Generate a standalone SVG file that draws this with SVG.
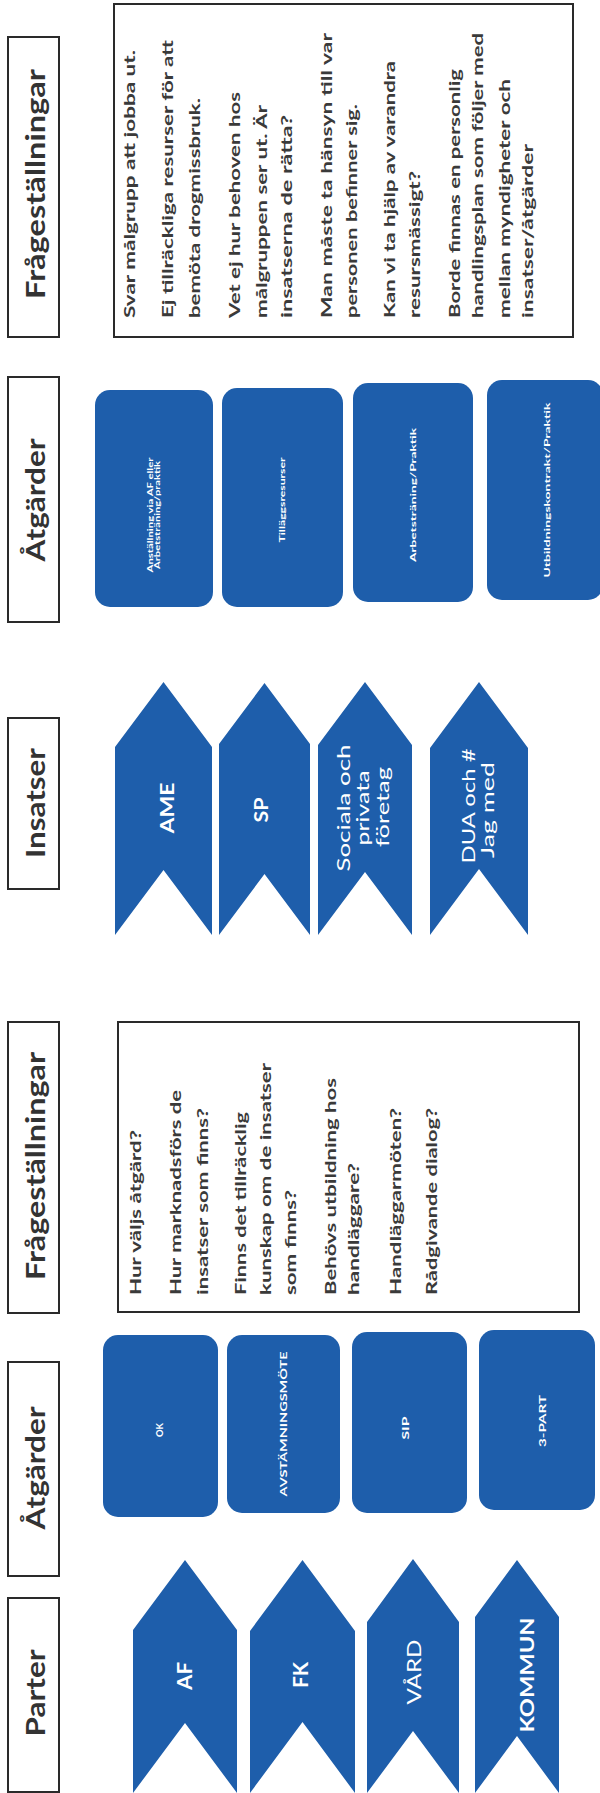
<svg xmlns="http://www.w3.org/2000/svg" width="600" height="1793" viewBox="0 0 600 1793">
<defs>
<style>
.hdr{fill:#fff;stroke:#2a2a2a;stroke-width:2}
.htxt{font-family:Lato,"Open Sans","Liberation Sans",sans-serif;font-weight:700;font-size:26px;fill:#333;text-anchor:middle}
.box{fill:#fff;stroke:#2a2a2a;stroke-width:2}
.q{font-family:Lato,"Open Sans","Liberation Sans",sans-serif;font-weight:700;font-size:16px;fill:#3a3a3a}
.blue{fill:#1E5EAB}
.wb{font-family:Lato,"Open Sans","Liberation Sans",sans-serif;font-weight:700;fill:#fff;text-anchor:middle}
.wl{font-family:Lato,"Open Sans","Liberation Sans",sans-serif;font-weight:400;fill:#fff;text-anchor:middle}
</style>
</defs>
<rect width="600" height="1793" fill="#fff"/>

<!-- Headers -->
<g id="hdr-fragor-1">
<rect class="hdr" x="8" y="37" width="51" height="300"/>
<text class="htxt" transform="translate(45,184) rotate(-90)" textLength="230" lengthAdjust="spacingAndGlyphs">Frågeställningar</text>
</g>
<g id="hdr-atgarder-1">
<rect class="hdr" x="8" y="377" width="51" height="245"/>
<text class="htxt" transform="translate(45,500) rotate(-90)" textLength="123" lengthAdjust="spacingAndGlyphs">Åtgärder</text>
</g>
<g id="hdr-insatser">
<rect class="hdr" x="8" y="718" width="51" height="171"/>
<text class="htxt" transform="translate(45,803) rotate(-90)" textLength="110" lengthAdjust="spacingAndGlyphs">Insatser</text>
</g>
<g id="hdr-fragor-2">
<rect class="hdr" x="8" y="1022" width="51" height="291"/>
<text class="htxt" transform="translate(45,1166) rotate(-90)" textLength="228" lengthAdjust="spacingAndGlyphs">Frågeställningar</text>
</g>
<g id="hdr-atgarder-2">
<rect class="hdr" x="8" y="1362" width="51" height="214"/>
<text class="htxt" transform="translate(45,1468) rotate(-90)" textLength="123" lengthAdjust="spacingAndGlyphs">Åtgärder</text>
</g>
<g id="hdr-parter">
<rect class="hdr" x="8" y="1598" width="51" height="194"/>
<text class="htxt" transform="translate(45,1693) rotate(-90)" textLength="87" lengthAdjust="spacingAndGlyphs">Parter</text>
</g>

<!-- Top questions box -->
<g id="fragor-1">
<rect class="box" x="114" y="4" width="459" height="333"/>
<text class="q" transform="translate(135,318) rotate(-90)" textLength="268" lengthAdjust="spacingAndGlyphs">Svar målgrupp att jobba ut.</text>
<text class="q" transform="translate(173,318) rotate(-90)" textLength="278" lengthAdjust="spacingAndGlyphs">Ej tillräckliga resurser för att</text>
<text class="q" transform="translate(200,318) rotate(-90)" textLength="220" lengthAdjust="spacingAndGlyphs">bemöta drogmissbruk.</text>
<text class="q" transform="translate(240,318) rotate(-90)" textLength="226" lengthAdjust="spacingAndGlyphs">Vet ej hur behoven hos</text>
<text class="q" transform="translate(267,318) rotate(-90)" textLength="213" lengthAdjust="spacingAndGlyphs">målgruppen ser ut. Är</text>
<text class="q" transform="translate(292,318) rotate(-90)" textLength="203" lengthAdjust="spacingAndGlyphs">insatserna de rätta?</text>
<text class="q" transform="translate(332,318) rotate(-90)" textLength="285" lengthAdjust="spacingAndGlyphs">Man måste ta hänsyn till var</text>
<text class="q" transform="translate(357,318) rotate(-90)" textLength="214" lengthAdjust="spacingAndGlyphs">personen befinner sig.</text>
<text class="q" transform="translate(395,318) rotate(-90)" textLength="257" lengthAdjust="spacingAndGlyphs">Kan vi ta hjälp av varandra</text>
<text class="q" transform="translate(420,318) rotate(-90)" textLength="147" lengthAdjust="spacingAndGlyphs">resursmässigt?</text>
<text class="q" transform="translate(460,318) rotate(-90)" textLength="249" lengthAdjust="spacingAndGlyphs">Borde finnas en personlig</text>
<text class="q" transform="translate(483,318) rotate(-90)" textLength="285" lengthAdjust="spacingAndGlyphs">handlingsplan som följer med</text>
<text class="q" transform="translate(510,318) rotate(-90)" textLength="239" lengthAdjust="spacingAndGlyphs">mellan myndigheter och</text>
<text class="q" transform="translate(533,318) rotate(-90)" textLength="174" lengthAdjust="spacingAndGlyphs">insatser/åtgärder</text>
</g>

<!-- Top Åtgärder boxes -->
<g id="atgard-anstallning">
<rect class="blue" x="95" y="390" width="118" height="217" rx="15"/>
<text class="wb" font-size="7" transform="translate(153,515) rotate(-90)" textLength="115" lengthAdjust="spacingAndGlyphs">Anställning via AF eller</text>
<text class="wb" font-size="7" transform="translate(160,515) rotate(-90)" textLength="108" lengthAdjust="spacingAndGlyphs">Arbetsträning/praktik</text>
</g>
<g id="atgard-tillagg">
<rect class="blue" x="222" y="388" width="121" height="219" rx="15"/>
<text class="wb" font-size="8" transform="translate(285,500) rotate(-90)" textLength="85" lengthAdjust="spacingAndGlyphs">Tilläggsresurser</text>
</g>
<g id="atgard-arbetstraning">
<rect class="blue" x="353" y="383" width="120" height="219" rx="15"/>
<text class="wb" font-size="8" transform="translate(416,495) rotate(-90)" textLength="134" lengthAdjust="spacingAndGlyphs">Arbetsträning/Praktik</text>
</g>
<g id="atgard-utbildning">
<rect class="blue" x="487" y="380" width="116" height="220" rx="15"/>
<text class="wb" font-size="8" transform="translate(550,490) rotate(-90)" textLength="175" lengthAdjust="spacingAndGlyphs">Utbildningskontrakt/Praktik</text>
</g>

<!-- Insatser chevrons -->
<g id="insats-ame">
<polygon class="blue" points="115,747 163.5,682 212,747 212,935 163.5,870 115,935"/>
<text class="wb" font-size="18" transform="translate(174,808) rotate(-90)" textLength="51" lengthAdjust="spacingAndGlyphs">AME</text>
</g>
<g id="insats-sp">
<polygon class="blue" points="219,744 264.5,683 310,744 310,935 264.5,874 219,935"/>
<text class="wb" font-size="18" transform="translate(268,810) rotate(-90)" textLength="25" lengthAdjust="spacingAndGlyphs">SP</text>
</g>
<g id="insats-sociala">
<polygon class="blue" points="318,745 365,682 412,745 412,935 365,872 318,935"/>
<text class="wl" font-size="17" transform="translate(350,808) rotate(-90)" textLength="127" lengthAdjust="spacingAndGlyphs">Sociala och</text>
<text class="wl" font-size="17" transform="translate(369,808) rotate(-90)" textLength="75" lengthAdjust="spacingAndGlyphs">privata</text>
<text class="wl" font-size="17" transform="translate(389,807) rotate(-90)" textLength="80" lengthAdjust="spacingAndGlyphs">företag</text>
</g>
<g id="insats-dua">
<polygon class="blue" points="430,748 479,682 528,748 528,935 479,869 430,935"/>
<text class="wl" font-size="17" transform="translate(475,806) rotate(-90)" textLength="115" lengthAdjust="spacingAndGlyphs">DUA och #</text>
<text class="wl" font-size="17" transform="translate(494,810) rotate(-90)" textLength="96" lengthAdjust="spacingAndGlyphs">Jag med</text>
</g>

<!-- Lower questions box -->
<g id="fragor-2">
<rect class="box" x="118" y="1022" width="461" height="290"/>
<text class="q" transform="translate(141,1295) rotate(-90)" textLength="165" lengthAdjust="spacingAndGlyphs">Hur väljs åtgärd?</text>
<text class="q" transform="translate(181,1295) rotate(-90)" textLength="205" lengthAdjust="spacingAndGlyphs">Hur marknadsförs de</text>
<text class="q" transform="translate(208,1295) rotate(-90)" textLength="187" lengthAdjust="spacingAndGlyphs">insatser som finns?</text>
<text class="q" transform="translate(246,1295) rotate(-90)" textLength="183" lengthAdjust="spacingAndGlyphs">Finns det tillräcklig</text>
<text class="q" transform="translate(271,1295) rotate(-90)" textLength="232" lengthAdjust="spacingAndGlyphs">kunskap om de insatser</text>
<text class="q" transform="translate(296,1295) rotate(-90)" textLength="105" lengthAdjust="spacingAndGlyphs">som finns?</text>
<text class="q" transform="translate(336,1295) rotate(-90)" textLength="217" lengthAdjust="spacingAndGlyphs">Behövs utbildning hos</text>
<text class="q" transform="translate(359,1295) rotate(-90)" textLength="132" lengthAdjust="spacingAndGlyphs">handläggare?</text>
<text class="q" transform="translate(401,1295) rotate(-90)" textLength="187" lengthAdjust="spacingAndGlyphs">Handläggarmöten?</text>
<text class="q" transform="translate(437,1295) rotate(-90)" textLength="187" lengthAdjust="spacingAndGlyphs">Rådgivande dialog?</text>
</g>

<!-- Lower Åtgärder boxes -->
<g id="atgard-ok">
<rect class="blue" x="103" y="1335" width="115" height="182" rx="15"/>
<text class="wb" font-size="10" transform="translate(163,1430) rotate(-90)" textLength="14" lengthAdjust="spacingAndGlyphs">OK</text>
</g>
<g id="atgard-avstamning">
<rect class="blue" x="227" y="1335" width="113" height="178" rx="15"/>
<text class="wb" font-size="10" transform="translate(287,1424) rotate(-90)" textLength="145" lengthAdjust="spacingAndGlyphs">AVSTÄMNINGSMÖTE</text>
</g>
<g id="atgard-sip">
<rect class="blue" x="352" y="1332" width="115" height="181" rx="15"/>
<text class="wb" font-size="10" transform="translate(409,1428) rotate(-90)" textLength="23" lengthAdjust="spacingAndGlyphs">SIP</text>
</g>
<g id="atgard-3part">
<rect class="blue" x="479" y="1330" width="116" height="180" rx="15"/>
<text class="wb" font-size="10" transform="translate(546,1421) rotate(-90)" textLength="52" lengthAdjust="spacingAndGlyphs">3-PART</text>
</g>

<!-- Parter chevrons -->
<g id="part-af">
<polygon class="blue" points="133,1630 185,1560 237,1630 237,1793 185,1723 133,1793"/>
<text class="wb" font-size="20" transform="translate(192,1676) rotate(-90)" textLength="28" lengthAdjust="spacingAndGlyphs">AF</text>
</g>
<g id="part-fk">
<polygon class="blue" points="250,1631 302.5,1560 355,1631 355,1793 302.5,1722 250,1793"/>
<text class="wb" font-size="20" transform="translate(308,1675) rotate(-90)" textLength="26" lengthAdjust="spacingAndGlyphs">FK</text>
</g>
<g id="part-vard">
<polygon class="blue" points="367,1622 413,1559 459,1622 459,1793 413,1731 367,1793"/>
<text class="wl" font-size="19" transform="translate(421,1672) rotate(-90)" textLength="65" lengthAdjust="spacingAndGlyphs">VÅRD</text>
</g>
<g id="part-kommun">
<polygon class="blue" points="475,1617 517,1560 559,1617 559,1793 517,1736 475,1793"/>
<text class="wb" font-size="19" transform="translate(534,1675) rotate(-90)" textLength="115" lengthAdjust="spacingAndGlyphs">KOMMUN</text>
</g>

<g id="connectors"/>
</svg>
